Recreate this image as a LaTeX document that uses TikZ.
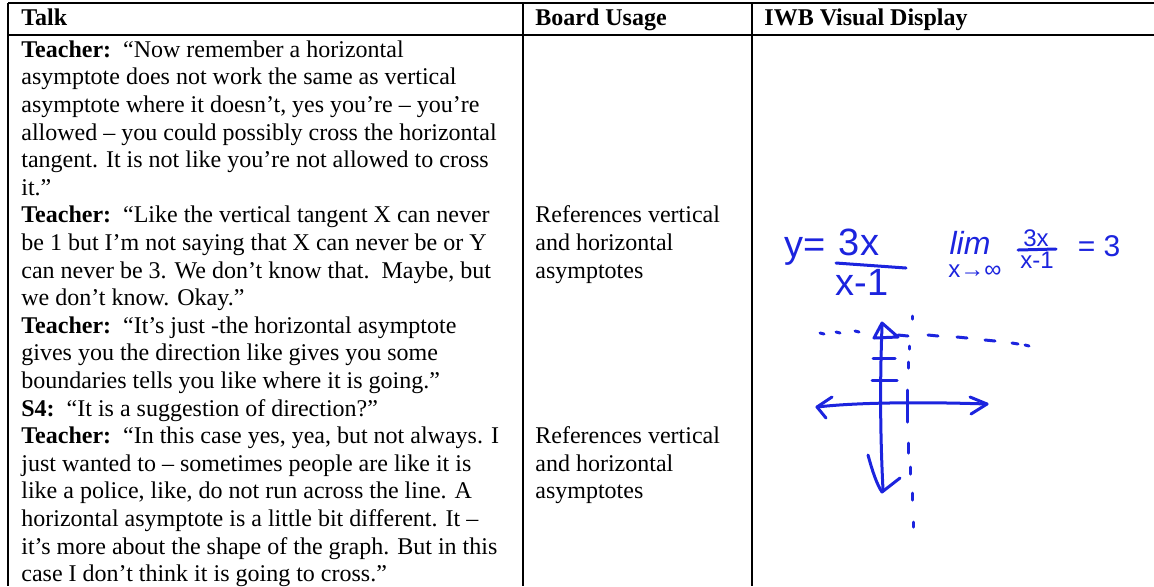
\documentclass[tikz,border=0pt]{standalone}
\usepackage{fontspec}
\setmainfont{Liberation Serif}
\newfontfamily\handfont{Liberation Sans}
\definecolor{penblue}{RGB}{28,36,222}

\begin{document}
\begin{tikzpicture}[x=0.5pt,y=-0.5pt,
    gridline/.style={line width=1.1pt, black},
    headtext/.style={font=\fontsize{12}{13.8}\selectfont\bfseries, inner sep=0, anchor=base west},
    celltext/.style={font=\fontsize{12}{13.8}\selectfont, inner sep=0, anchor=north west, align=left},
    penline/.style={penblue, line width=1.5pt, line cap=round, line join=round},
    handtext/.style={text=penblue, inner sep=0, anchor=base}]

\useasboundingbox (0,0) rectangle (1154,586);

% table rules
\draw[gridline] (8,3) -- (1154,3);
\draw[gridline] (8,35) -- (1154,35);
\draw[gridline] (8,3) -- (8,586);
\draw[gridline] (523,3) -- (523,586);
\draw[gridline] (752,3) -- (752,586);

% header row
\node[headtext] (talkHead) at (21,25) {Talk};
\node[headtext] (boardHead) at (535,25) {Board Usage};
\node[headtext] (iwbHead) at (764,25) {IWB Visual Display};

% talk column
\node[celltext] (talk) at (21,37.5) {\strut\textbf{Teacher:}\ \ “Now remember a horizontal\\
asymptote does not work the same as vertical\\
asymptote where it doesn’t, yes you’re – you’re\\
allowed – you could possibly cross the horizontal\\
tangent. It is not like you’re not allowed to cross\\
it.”\\
\textbf{Teacher:}\ \ “Like the vertical tangent X can never\\
be 1 but I’m not saying that X can never be or Y\\
can never be 3. We don’t know that.\ \ Maybe, but\\
we don’t know. Okay.”\\
\textbf{Teacher:}\ \ “It’s just -the horizontal asymptote\\
gives you the direction like gives you some\\
boundaries tells you like where it is going.”\\
\textbf{S4:}\ \ “It is a suggestion of direction?”\\
\textbf{Teacher:}\ \ “In this case yes, yea, but not always. I\\
just wanted to – sometimes people are like it is\\
like a police, like, do not run across the line. A\\
horizontal asymptote is a little bit different. It –\\
it’s more about the shape of the graph. But in this\\
case I don’t think it is going to cross.”\strut};

% board usage column
\node[celltext] (boardA) at (535,203.1) {\strut References vertical\\and horizontal\\asymptotes\strut};
\node[celltext] (boardB) at (535,423.9) {\strut References vertical\\and horizontal\\asymptotes\strut};

% IWB display: formulas
\node[handtext, font=\handfont\fontsize{19}{19}\selectfont, anchor=base west] (yEq) at (784,257) {y=};
\node[handtext, font=\handfont\fontsize{19}{19}\selectfont] (yNum) at (859,255) {3x};
\node[handtext, font=\handfont\fontsize{19}{19}\selectfont] (yDen) at (862,295) {x-1};
\draw[penline] (836,263) -- (906,268);

\node[handtext, font=\handfont\itshape\fontsize{16}{16}\selectfont] (lim) at (970,254) {lim};
\node[handtext, font=\handfont\fontsize{12}{12}\selectfont] (limSub) at (975,277) {x→∞};
\node[handtext, font=\handfont\fontsize{12}{12}\selectfont] (limNum) at (1036,246) {3x};
\node[handtext, font=\handfont\fontsize{12}{12}\selectfont] (limDen) at (1037,268) {x-1};
\draw[penline] (1018,250) -- (1056,249);
\node[handtext, font=\handfont\fontsize{15}{15}\selectfont] (limVal) at (1099,256) {= 3};

% IWB display: sketch of the graph
\foreach \x/\y/\l in {822/333/2, 838/332/2, 857/331/2, 903/335/5, 933/335/5, 962/337/5, 990/340/5, 1015/343/3, 1027/345/2}
    \draw[penline] ({\x-\l},\y) -- ({\x+\l},{\y+1});
\foreach \x/\ya/\yb in {912/316/319, 909/346/349, 908/362/368, 908/443/453, 910/467/474, 912/493/500, 913/522/527}
    \draw[penline] (\x,\ya) -- (\x,\yb);
\draw[penline] (907,390) -- (907,422);

\draw[penline] (874,338) -- (882,323) -- (898,337) -- cycle;
\draw[penline] (882,326) .. controls (880,380) and (880,430) .. (883,490);
\draw[penline] (868,455) .. controls (872,470) and (877,485) .. (882,492) -- (900,478);
\draw[penline] (873,358) -- (895,358);
\draw[penline] (872,380) -- (897,380);

\draw[penline] (817,407) .. controls (860,402) and (930,402) .. (987,404);
\draw[penline] (832,397) -- (817,407) -- (826,418);
\draw[penline] (970,397) -- (987,404) -- (971,414);

\end{tikzpicture}
\end{document}
